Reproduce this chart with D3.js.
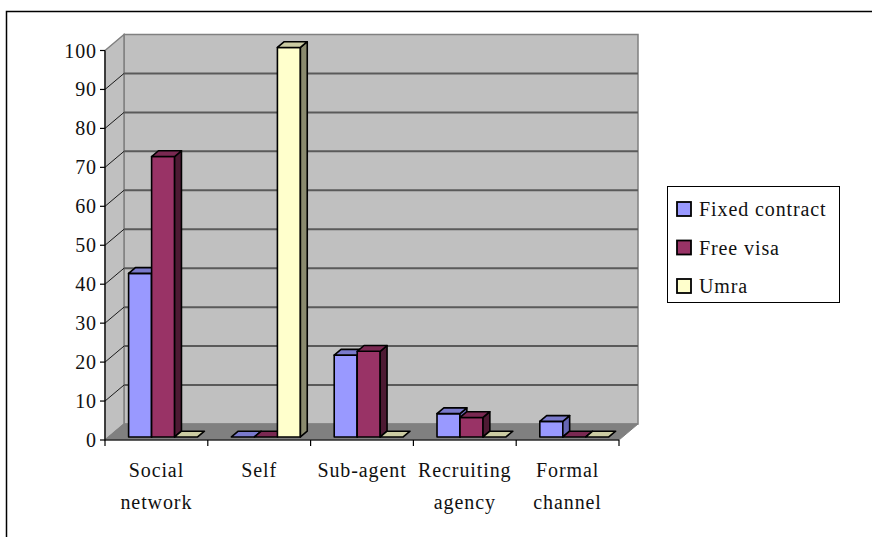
<!DOCTYPE html>
<html>
<head>
<meta charset="utf-8">
<script src="https://cdn.jsdelivr.net/npm/d3@7/dist/d3.min.js"></script>
<style>
  html, body { margin: 0; padding: 0; background: #fff; }
  svg { display: block; font-family: "Liberation Serif", "Times New Roman", serif; }
  text { letter-spacing: 0.9px; }
</style>
</head>
<body>
<svg id="chart" width="872" height="537"></svg>
<script>
// Recruitment channel by migration type (percent)
const categories = ["Social network", "Self", "Sub-agent", "Recruiting agency", "Formal channel"];
const seriesNames = ["Fixed contract", "Free visa", "Umra"];
const fixedContract = [42, 0, 21, 6, 4];
const freeVisa = [72, 0, 22, 5, 0];
const umra = [0, 100, 0, 0, 0];
const yTicks = [0, 10, 20, 30, 40, 50, 60, 70, 80, 90, 100];

const seriesValues = [fixedContract, freeVisa, umra];
const seriesColors = [
  { front: "#9999ff", top: "#7a7acc", side: "#6666b3" },
  { front: "#993366", top: "#7a2952", side: "#4d1a33" },
  { front: "#ffffcc", top: "#ccccA3", side: "#8a8a6e" }
];

const svg = d3.select("#chart");
const FONT = 20;

// Oblique projection: depth z in [0,1] shifts right and up
const DEPTH_X = 19, DEPTH_Y = 16;
const x = d3.scaleBand().domain(categories).range([105, 619]).paddingInner(0).paddingOuter(0);
const y = d3.scaleLinear().domain([0, 100]).range([440, 50.5]);
const inner = d3.scaleBand().domain(seriesNames).range([20, 89]).padding(0);
const proj = (px, v, z) => [px + z * DEPTH_X, y(v) - z * DEPTH_Y];
const poly = pts => "M" + pts.map(p => p.join(",")).join("L") + "Z";

// Outer frame
svg.append("rect")
  .attr("x", 6.5).attr("y", 11.5).attr("width", 900).attr("height", 600)
  .attr("fill", "none").attr("stroke", "#000").attr("stroke-width", 1.5);

const x0 = x.range()[0], x1 = x.range()[1];

// Back wall
svg.append("path")
  .attr("d", poly([proj(x0, 0, 1), proj(x1, 0, 1), proj(x1, 100, 1), proj(x0, 100, 1)]))
  .attr("fill", "#c0c0c0").attr("stroke", "#808080").attr("stroke-width", 1.5);
// Side wall
svg.append("path")
  .attr("d", poly([proj(x0, 0, 0), proj(x0, 0, 1), proj(x0, 100, 1), proj(x0, 100, 0)]))
  .attr("fill", "#c0c0c0").attr("stroke", "#808080").attr("stroke-width", 1.5);
// Floor
svg.append("path")
  .attr("d", poly([proj(x0, 0, 0), proj(x1, 0, 0), proj(x1, 0, 1), proj(x0, 0, 1)]))
  .attr("fill", "#808080").attr("stroke", "#808080").attr("stroke-width", 1);

// Gridlines on back wall and side wall
const gridTicks = yTicks.filter(t => t > 0 && t < 100);
svg.append("g").selectAll("line").data(gridTicks).join("line")
  .attr("x1", d => proj(x0, d, 1)[0]).attr("y1", d => proj(x0, d, 1)[1])
  .attr("x2", d => proj(x1, d, 1)[0]).attr("y2", d => proj(x1, d, 1)[1])
  .attr("stroke", "#5a5a5a").attr("stroke-width", 2);
svg.append("g").selectAll("line").data(gridTicks).join("line")
  .attr("x1", d => proj(x0, d, 0)[0]).attr("y1", d => proj(x0, d, 0)[1])
  .attr("x2", d => proj(x0, d, 1)[0]).attr("y2", d => proj(x0, d, 1)[1])
  .attr("stroke", "#1a1a1a").attr("stroke-width", 1);

// Bars
const Z0 = 0.19, Z1 = 0.55;
const bars = svg.append("g");
categories.forEach((cat, ci) => {
  seriesNames.forEach((s, si) => {
    const v = seriesValues[si][ci];
    const c = seriesColors[si];
    const bx0 = x(cat) + inner(s);
    const bx1 = bx0 + inner.bandwidth();
    const g = bars.append("g").attr("stroke", "#000").attr("stroke-width", 1.6).attr("stroke-linejoin", "round");
    if (v > 0) {
      g.append("path").attr("fill", c.front)
        .attr("d", poly([proj(bx0, 0, Z0), proj(bx1, 0, Z0), proj(bx1, v, Z0), proj(bx0, v, Z0)]));
      g.append("path").attr("fill", c.side)
        .attr("d", poly([proj(bx1, 0, Z0), proj(bx1, 0, Z1), proj(bx1, v, Z1), proj(bx1, v, Z0)]));
    }
    g.append("path").attr("fill", c.top)
      .attr("d", poly([proj(bx0, v, Z0), proj(bx1, v, Z0), proj(bx1, v, Z1), proj(bx0, v, Z1)]));
  });
});

// Y axis
const yAxis = svg.append("g");
yAxis.append("line").attr("x1", x0).attr("x2", x0).attr("y1", y(0)).attr("y2", y(100))
  .attr("stroke", "#000").attr("stroke-width", 1.2);
yAxis.selectAll("line.tick").data(yTicks).join("line").attr("class", "tick")
  .attr("x1", x0 - 5).attr("x2", x0).attr("y1", d => y(d)).attr("y2", d => y(d))
  .attr("stroke", "#000").attr("stroke-width", 1.2);
yAxis.selectAll("text").data(yTicks).join("text")
  .attr("x", x0 - 8).attr("y", d => y(d)).attr("dy", "0.35em")
  .attr("text-anchor", "end").attr("font-size", FONT).attr("fill", "#111")
  .text(d => d);

// X axis
const xAxis = svg.append("g");
xAxis.append("line").attr("x1", x0).attr("x2", x1).attr("y1", y(0)).attr("y2", y(0))
  .attr("stroke", "#000").attr("stroke-width", 1.2);
const boundaries = categories.map(c => x(c)).concat([x1]);
xAxis.selectAll("line.tick").data(boundaries).join("line").attr("class", "tick")
  .attr("x1", d => d).attr("x2", d => d).attr("y1", y(0)).attr("y2", y(0) + 6)
  .attr("stroke", "#000").attr("stroke-width", 1.2);
const labels = xAxis.selectAll("text").data(categories).join("text")
  .attr("x", d => x(d) + x.bandwidth() / 2).attr("y", 477)
  .attr("text-anchor", "middle").attr("font-size", FONT).attr("fill", "#111");
labels.each(function (d) {
  const words = d.split(" ");
  d3.select(this).selectAll("tspan").data(words).join("tspan")
    .attr("x", x(d) + x.bandwidth() / 2)
    .attr("dy", (w, i) => i === 0 ? 0 : 32)
    .text(w => w);
});

// Legend
const legend = svg.append("g");
legend.append("rect").attr("x", 667.5).attr("y", 186.5).attr("width", 172).attr("height", 116)
  .attr("fill", "#fff").attr("stroke", "#000").attr("stroke-width", 1);
const rows = legend.selectAll("g.row").data(seriesNames).join("g").attr("class", "row")
  .attr("transform", (d, i) => `translate(677, ${209 + i * 38.5})`);
rows.append("rect").attr("x", 0).attr("y", -7).attr("width", 14).attr("height", 14)
  .attr("fill", (d, i) => seriesColors[i].front).attr("stroke", "#000").attr("stroke-width", 1.8);
rows.append("text").attr("x", 22).attr("y", 0).attr("dy", "0.35em")
  .attr("font-size", FONT).attr("fill", "#111").text(d => d);
</script>
</body>
</html>
